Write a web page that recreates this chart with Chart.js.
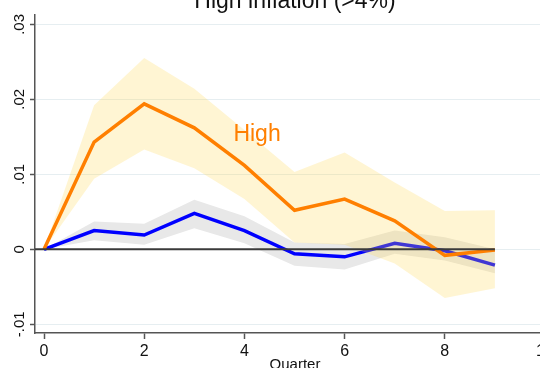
<!DOCTYPE html>
<html lang="en">
<head>
    <meta charset="UTF-8">
    <title>High inflation IRF</title>
    <script src="https://cdn.jsdelivr.net/npm/chart.js"></script>
    <style>
        body { margin: 0; overflow: hidden; background: #fff; }
        canvas { position: absolute; left: 0; top: 0; }
    </style>
</head>
<body>
    <canvas id="irfChart" width="560" height="368"></canvas>

    <script>
        // quarters after the shock
        const quarters = [0, 1, 2, 3, 4, 5, 6, 7, 8, 9];

        // high inflation regime (orange) with its band
        const highIrf   = [0, 0.0143, 0.0194, 0.0162, 0.0112, 0.0052, 0.0067, 0.0038, -0.0008, -0.0001];
        const highUpper = [0, 0.0192, 0.0255, 0.0214, 0.0159, 0.0103, 0.0129, 0.0089, 0.0051, 0.0052];
        const highLower = [0, 0.0094, 0.0133, 0.0108, 0.0067, 0.0009, 0.0006, -0.0019, -0.0065, -0.0052];

        // baseline (blue) with its band
        const lowIrf   = [0, 0.0025, 0.0019, 0.0048, 0.0025, -0.0006, -0.0010, 0.0008, -0.0002, -0.0021];
        const lowUpper = [0, 0.0037, 0.0034, 0.0066, 0.0044, 0.0009, 0.0007, 0.0025, 0.0016, 0.0000];
        const lowLower = [0, 0.0012, 0.0006, 0.0028, 0.0008, -0.0022, -0.0027, -0.0006, -0.0015, -0.0032];

        const xTicks = [0, 2, 4, 6, 8, 10];
        const yTicks = [-0.01, 0, 0.01, 0.02, 0.03];
        const yTickLabels = ['-.01', '0', '.01', '.02', '.03'];

        const pts = vals => quarters.map((q, i) => ({ x: q, y: vals[i] }));

        Chart.defaults.font.family = "'Liberation Sans', Arial, sans-serif";

        const textPlugin = {
            id: 'texts',
            afterDatasetsDraw(chart) {
                const { ctx, chartArea, scales: { x, y } } = chart;
                ctx.save();
                // zero reference line
                ctx.strokeStyle = '#3a3a3a';
                ctx.lineWidth = 2;
                ctx.beginPath();
                ctx.moveTo(chartArea.left, y.getPixelForValue(0));
                ctx.lineTo(x.getPixelForValue(quarters[quarters.length - 1]), y.getPixelForValue(0));
                ctx.stroke();

                // rotated y tick labels
                ctx.fillStyle = '#111';
                ctx.font = "15px 'Liberation Sans', Arial";
                ctx.textAlign = 'center';
                ctx.textBaseline = 'middle';
                yTicks.forEach((v, i) => {
                    ctx.save();
                    ctx.translate(20, y.getPixelForValue(v));
                    ctx.rotate(-Math.PI / 2);
                    ctx.fillText(yTickLabels[i], 0, 0);
                    ctx.restore();
                });

                // series label
                ctx.fillStyle = '#ff7f00';
                ctx.font = "23px 'Liberation Sans', Arial";
                ctx.textAlign = 'left';
                ctx.textBaseline = 'alphabetic';
                ctx.fillText('High', x.getPixelForValue(3.78), y.getPixelForValue(0.0145));

                // titles
                const mid = (chartArea.left + chartArea.right) / 2 + 5;
                ctx.fillStyle = '#111';
                ctx.textAlign = 'center';
                ctx.fillText('High inflation (>4%)', mid, 8);
                ctx.font = "15px 'Liberation Sans', Arial";
                ctx.fillText('Quarter', mid, 369);
                ctx.restore();
            }
        };

        const ctx = document.getElementById('irfChart').getContext('2d');
        new Chart(ctx, {
            type: 'line',
            data: {
                datasets: [
                    { data: pts(lowUpper), borderWidth: 0, pointRadius: 0, fill: '+1',
                      backgroundColor: 'rgb(232,232,232)', order: 7 },
                    { data: pts(lowLower), borderWidth: 0, pointRadius: 0, fill: false, order: 7 },
                    { data: pts(lowIrf), borderColor: '#0000ff', borderWidth: 3.5, pointRadius: 0,
                      fill: false, order: 5 },
                    { data: pts(highUpper), borderWidth: 0, pointRadius: 0, fill: '+1',
                      backgroundColor: 'rgba(255,215,80,0.25)', order: 4 },
                    { data: pts(highLower), borderWidth: 0, pointRadius: 0, fill: false, order: 4 },
                    { data: pts(highIrf), borderColor: '#ff7f00', borderWidth: 3.5, pointRadius: 0,
                      fill: false, order: 1 }
                ]
            },
            options: {
                responsive: false,
                animation: false,
                layout: { padding: { left: 0, right: 15, top: 15, bottom: 0 } },
                plugins: { legend: { display: false }, tooltip: { enabled: false } },
                scales: {
                    x: {
                        type: 'linear',
                        min: -0.18,
                        max: 10,
                        afterBuildTicks: s => { s.ticks = xTicks.map(v => ({ value: v })); },
                        afterFit: s => { s.height = 35; },
                        ticks: { color: '#111', font: { size: 16 }, padding: 3, maxRotation: 0 },
                        grid: { drawOnChartArea: false, tickLength: 6, tickColor: '#555', tickWidth: 1.5 },
                        border: { color: '#555', width: 1.5 }
                    },
                    y: {
                        min: -0.01116,
                        max: 0.03125,
                        afterBuildTicks: s => { s.ticks = yTicks.map(v => ({ value: v })); },
                        afterFit: s => { s.width = 35; },
                        ticks: { display: false },
                        grid: { color: '#e6eef1', lineWidth: 1, tickLength: 5, tickColor: '#555', tickWidth: 1.5 },
                        border: { color: '#555', width: 1.5 }
                    }
                }
            },
            plugins: [textPlugin]
        });
    </script>
</body>
</html>
